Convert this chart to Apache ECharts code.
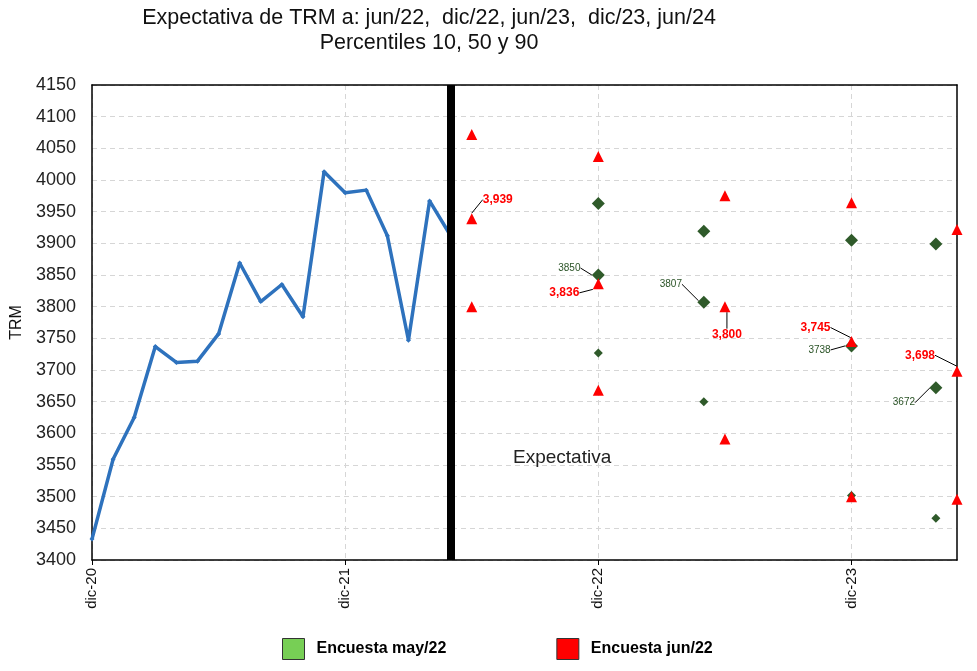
<!DOCTYPE html>
<html><head><meta charset="utf-8">
<script src="https://cdn.jsdelivr.net/npm/echarts@6/dist/echarts.min.js"></script>
<style>html,body{margin:0;padding:0;background:#fff;}#c{width:977px;height:671px;}</style>
</head><body><div id="c"></div>
<script>
// ---- data (x = months since dic-20) ----
const histMonths = [0,1,2,3,4,5,6,7,8,9,10,11,12,13,14,15,16,17];
const histTRM = [3433,3559,3625,3737,3712,3714,3757,3869,3808,3835,3784,4013,3980,3984,3912,3747,3967,3912];
const tickMonths = [0,12,24,36];
const tickLabels = ['dic-20','dic-21','dic-22','dic-23'];
const cutMonth = 17;

const mayX   = [24,29,36,40];
const mayP90 = [3963,3919,3905,3899];
const mayP50 = [3850,3807,3738,3672];
const mayP10 = [3727,3650,3502,3466];

const junX   = [18,24,30,36,41];
const junP90 = [4072,4037,3975,3964,3922];
const junP50 = [3939,3836,3800,3745,3698];
const junP10 = [3800,3668,3591,3500,3496];

const yTicks = {min:3400, max:4150, step:50};

// ---- styling / layout ----
const FONT = 'Liberation Sans, Arial, sans-serif';
const GREEN = '#2f5a2a', RED = '#ff0000', BLUE = '#2e72bd';
const mayLabelOffsets = [[-29,-7],[-33,-18],[-32,4],[-32,15]];
const junLabelOffsets = [[26,-19],[-34,9],[2,28],[-36,-14],[-37,-16]];

function pts(xs, ys, size){ return xs.map((x,i)=>({value:[x,ys[i]], symbolSize:size})); }

const frameAxis = {show:true, axisLine:{show:true, onZero:false, lineStyle:{color:'#000', width:1.5}}, axisTick:{show:false}, axisLabel:{show:false}, splitLine:{show:false}};

const chart = echarts.init(document.getElementById('c'), null, {renderer:'canvas'});
chart.setOption({
  animation:false,
  backgroundColor:'#fff',
  textStyle:{fontFamily:FONT},
  grid:{left:92, right:20, top:85, bottom:111},
  graphic:[
    {type:'text', x:429, y:6, z:10, style:{text:'Expectativa de TRM a: jun/22,  dic/22, jun/23,  dic/23, jun/24\nPercentiles 10, 50 y 90', textAlign:'center', font:'21.5px '+FONT, fill:'#111', lineHeight:25}},
    {type:'text', x:513, y:448, z:10, style:{text:'Expectativa', font:'19px '+FONT, fill:'#222'}}
  ],
  legend:{
    left:277, top:633, itemWidth:22, itemHeight:21, itemGap:110,
    textStyle:{fontSize:16, fontWeight:'bold', color:'#000', fontFamily:FONT, padding:[0,0,0,7]},
    data:[
      {name:'Encuesta may/22', icon:'rect', itemStyle:{color:'#77cf55', borderColor:'#333', borderWidth:1}},
      {name:'Encuesta jun/22', icon:'rect', itemStyle:{color:'#ff0000', borderColor:'#333', borderWidth:1}}
    ]
  },
  xAxis:[{
    type:'value', min:0, max:41, interval:12,
    axisLine:{show:true, lineStyle:{color:'#000', width:1.5}},
    axisTick:{show:true, length:5, lineStyle:{color:'#000'}, customValues:tickMonths},
    axisLabel:{rotate:90, fontSize:15, color:'#111', margin:8, customValues:tickMonths,
      formatter:v=>{const i=tickMonths.indexOf(v); return i>=0?tickLabels[i]:'';}},
    splitLine:{show:true, lineStyle:{color:'#d6d6d6', type:[5,4], width:1}}
  }, Object.assign({type:'value', position:'top', min:0, max:41}, frameAxis)],
  yAxis:[{
    type:'value', min:yTicks.min, max:yTicks.max, interval:yTicks.step,
    name:'TRM', nameLocation:'middle', nameGap:62, nameTextStyle:{fontSize:16, color:'#111'},
    axisLine:{show:true, lineStyle:{color:'#000', width:1.5}},
    axisTick:{show:false},
    axisLabel:{fontSize:18, color:'#222', margin:16, formatter:v=>String(v)},
    splitLine:{show:true, lineStyle:{color:'#d6d6d6', type:[5,4], width:1}}
  }, Object.assign({type:'value', position:'right', min:yTicks.min, max:yTicks.max}, frameAxis)],
  series:[
    {type:'line', name:'TRM', data:histMonths.map((m,i)=>[m,histTRM[i]]),
     lineStyle:{color:BLUE, width:3.5}, itemStyle:{color:BLUE}, symbol:'diamond', symbolSize:5, showSymbol:true,
     markLine:{silent:true, symbol:'none', label:{show:false}, lineStyle:{color:'#000', width:8, type:'solid'}, data:[{xAxis:cutMonth}]}},
    {type:'scatter', name:'Encuesta may/22', symbol:'diamond', itemStyle:{color:GREEN, opacity:1}, z:3,
     data:pts(mayX,mayP90,13).concat(pts(mayX,mayP10,9))},
    {type:'scatter', name:'Encuesta may/22', symbol:'diamond', itemStyle:{color:GREEN, opacity:1}, z:3,
     data:pts(mayX,mayP50,13),
     label:{show:true, position:'inside', formatter:p=>String(p.value[1]), color:'#2a5326', fontSize:10, fontFamily:FONT},
     labelLine:{show:true, lineStyle:{color:'#000', width:1}},
     labelLayout:p=>{const o=mayLabelOffsets[p.dataIndex]; return {dx:o[0], dy:o[1]};}},
    {type:'scatter', name:'Encuesta jun/22', symbol:'triangle', itemStyle:{color:RED, opacity:1}, z:4,
     data:pts(junX,junP90,11).concat(pts(junX,junP10,11))},
    {type:'scatter', name:'Encuesta jun/22', symbol:'triangle', itemStyle:{color:RED, opacity:1}, z:4,
     data:pts(junX,junP50,11),
     label:{show:true, position:'inside', formatter:p=>p.value[1].toLocaleString('en-US'), color:RED, fontSize:12, fontWeight:'bold', fontFamily:FONT},
     labelLine:{show:true, lineStyle:{color:'#000', width:1}},
     labelLayout:p=>{const o=junLabelOffsets[p.dataIndex]; return {dx:o[0], dy:o[1]};}}
  ]
});
</script></body></html>
